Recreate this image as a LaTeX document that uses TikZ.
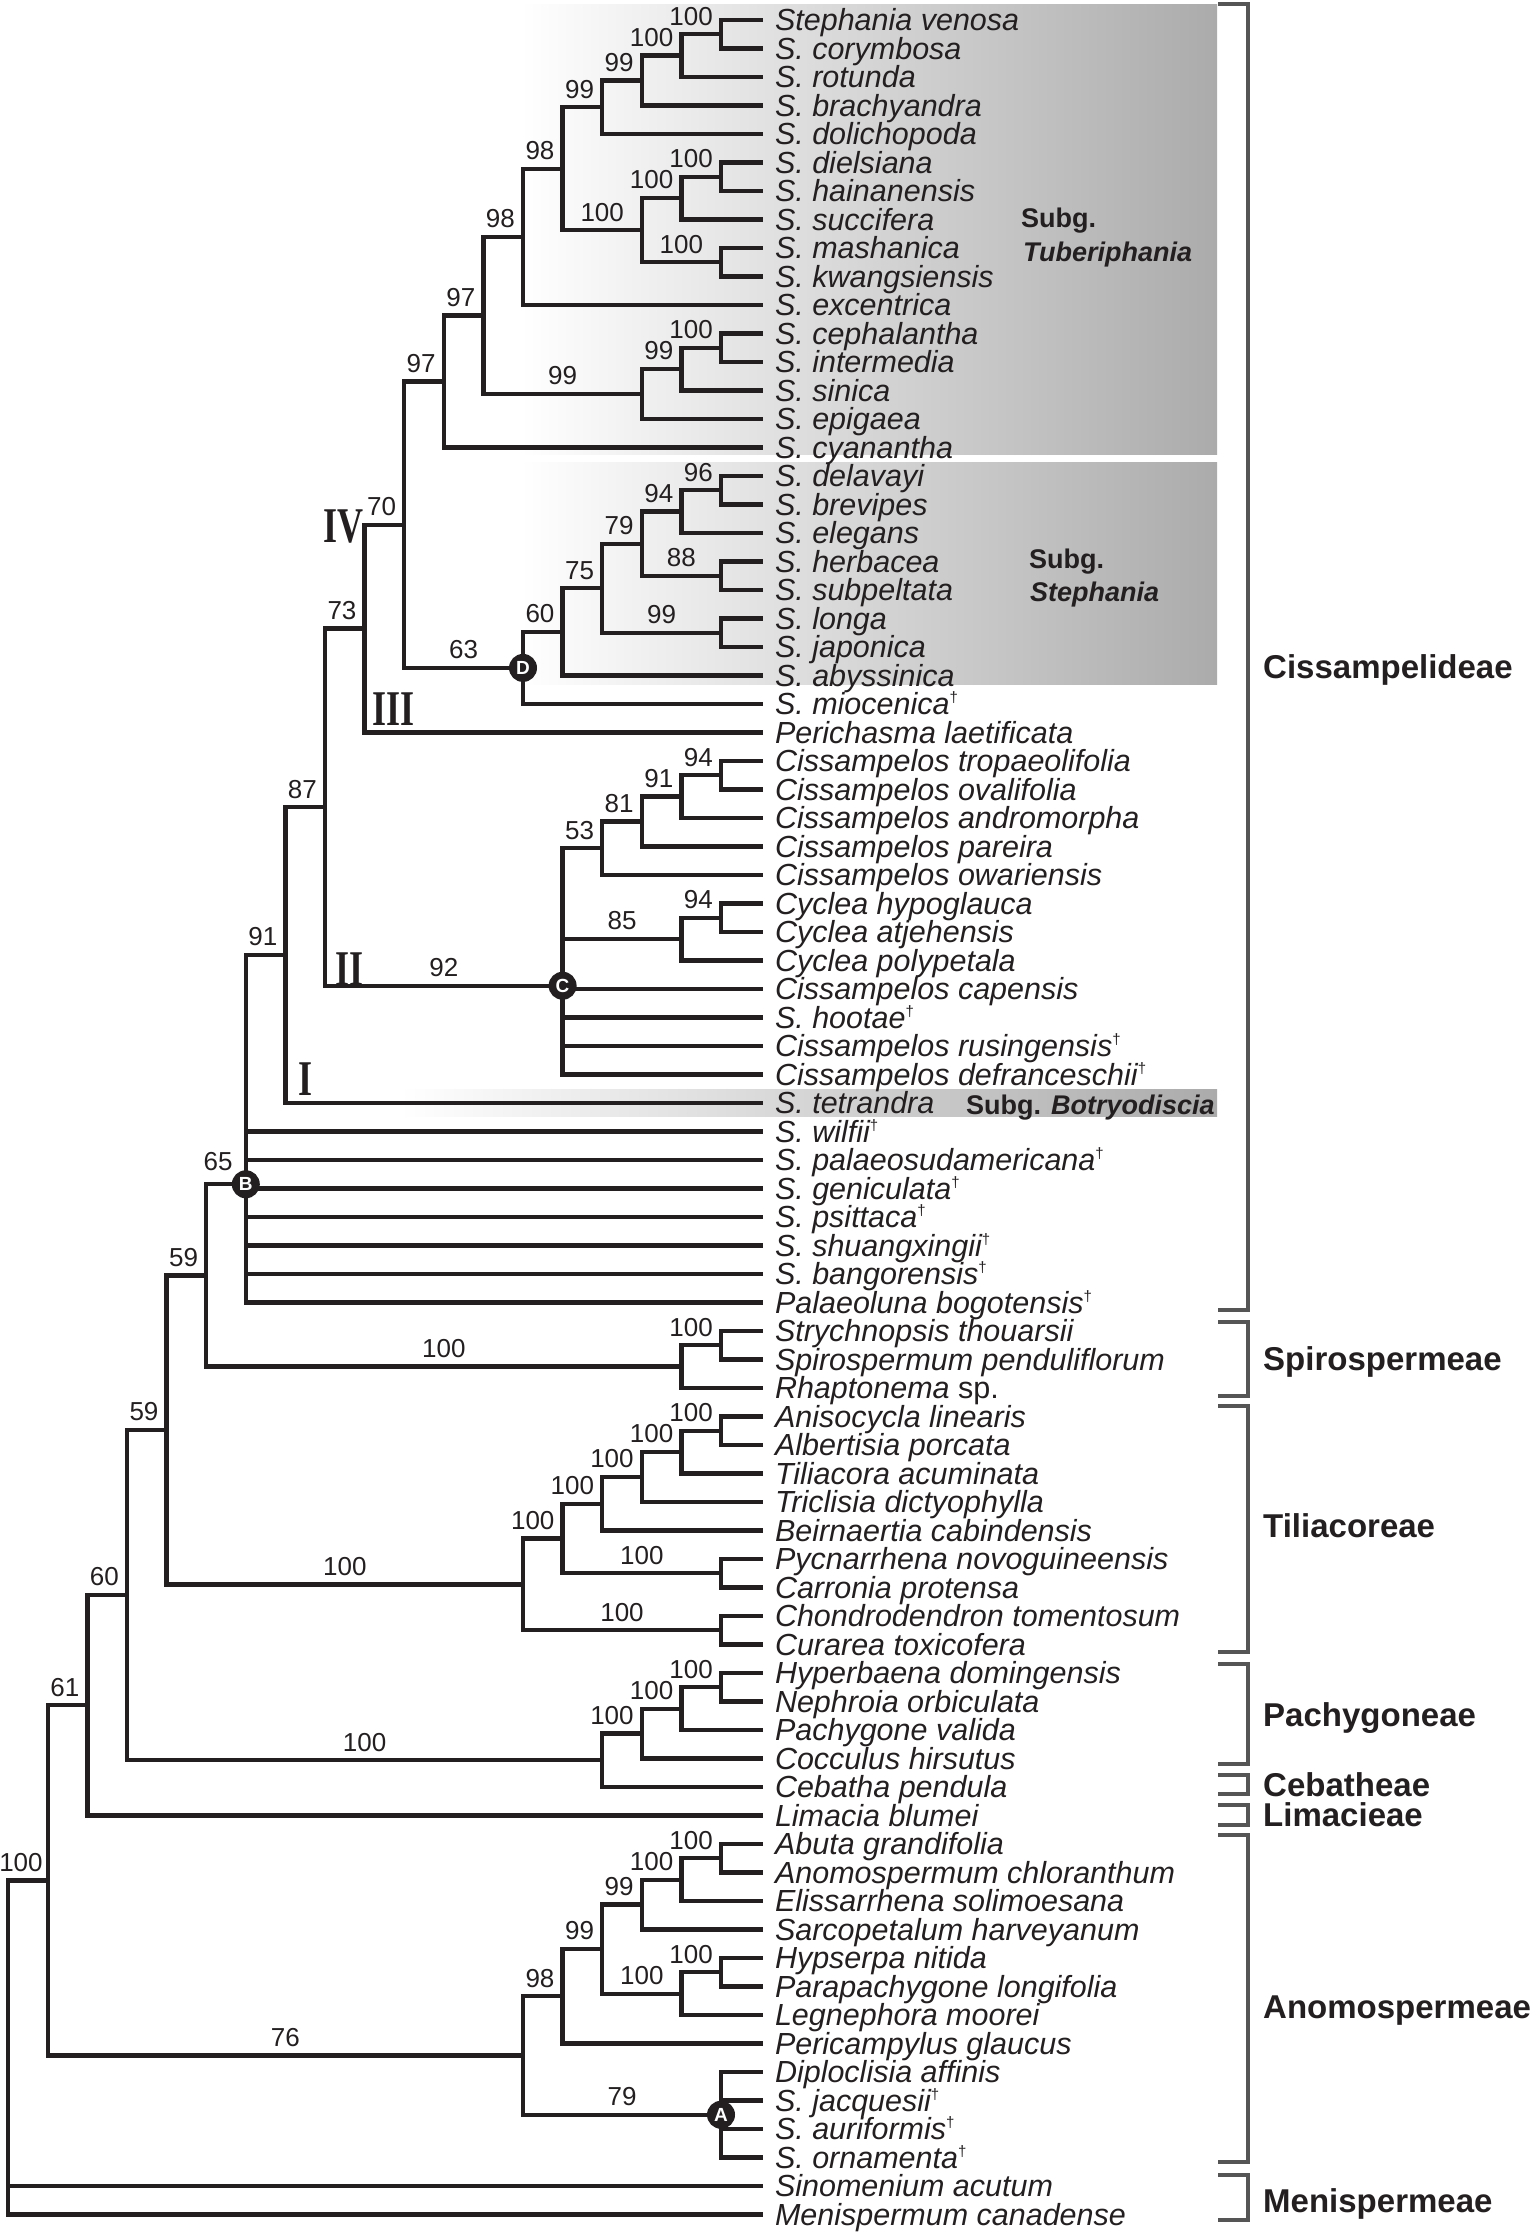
\documentclass[tikz,border=0pt]{standalone}
\usepackage{fontspec}
\setmainfont{Liberation Sans}
\newfontfamily\romanfont{Liberation Serif}
\usepackage{tikz}

\definecolor{inkblack}{HTML}{231F20}
\definecolor{bracketgray}{HTML}{555555}
\definecolor{boxgray}{HTML}{ABABAB}

% column of a node level, leaf tip column
\newcommand{\colx}[1]{(721-39.6*(#1))}
\newcommand{\tipx}{763}
\newcommand{\taxfont}{\fontsize{30.5}{32}\selectfont\itshape}
\newcommand{\bsfont}{\fontsize{26}{28}\selectfont}
\newcommand{\tribefont}{\fontsize{33}{36}\selectfont\bfseries}
\newcommand{\subgfont}{\fontsize{27}{30}\selectfont\bfseries}
\newcommand{\badgefont}{\fontsize{19}{19}\selectfont\bfseries}
\newcommand{\cladefont}{\fontsize{50}{50}\selectfont\romanfont\bfseries}
\newcommand{\fossil}{\raisebox{12pt}{\fontsize{15}{15}\selectfont\upshape\textdagger}}

\begin{document}
\begin{tikzpicture}[x=1pt, y=-28.5pt,
  branch/.style={line width=4.3pt, draw=inkblack, line join=miter},
  taxon/.style={anchor=west, font=\taxfont, text=inkblack, inner xsep=12pt,
    inner ysep=0pt, outer sep=0pt, text height=21.8pt, text depth=0pt},
  bsm/.style={pos=0.75, anchor=south, font=\bsfont, text=inkblack,
    inner sep=0pt, text depth=0pt, yshift=7pt},
  bsr/.style={bsm, pos=1, anchor=south east, xshift=-6pt},
  badge/.style={circle, fill=inkblack, text=white, minimum size=28pt,
    inner sep=0pt, font=\badgefont},
  tribe/.style={anchor=west, font=\tribefont, text=inkblack, inner sep=0pt,
    text height=23.6pt, text depth=0pt},
  subg/.style={anchor=base west, font=\subgfont, text=inkblack, inner sep=0pt},
  clade/.style={font=\cladefont, text=inkblack, inner sep=0pt, xscale=0.72},
  bracket/.style={line width=4pt, draw=bracketgray, line join=miter}]

  \useasboundingbox (0,0.298) rectangle (1538,78.684);

  % subgenus boxes
  \shade[left color=white, right color=boxgray] (520,0.439) rectangle (1217,16.26);
  \shade[left color=white, right color=boxgray] (520,16.54) rectangle (1217,24.33);
  \shade[left color=white, right color=boxgray] (400,38.51) rectangle (1217,39.49);

  % taxa
  \node[taxon] (l1) at (\tipx,1) {Stephania venosa};
  \node[taxon] (l2) at (\tipx,2) {S. corymbosa};
  \node[taxon] (l3) at (\tipx,3) {S. rotunda};
  \node[taxon] (l4) at (\tipx,4) {S. brachyandra};
  \node[taxon] (l5) at (\tipx,5) {S. dolichopoda};
  \node[taxon] (l6) at (\tipx,6) {S. dielsiana};
  \node[taxon] (l7) at (\tipx,7) {S. hainanensis};
  \node[taxon] (l8) at (\tipx,8) {S. succifera};
  \node[taxon] (l9) at (\tipx,9) {S. mashanica};
  \node[taxon] (l10) at (\tipx,10) {S. kwangsiensis};
  \node[taxon] (l11) at (\tipx,11) {S. excentrica};
  \node[taxon] (l12) at (\tipx,12) {S. cephalantha};
  \node[taxon] (l13) at (\tipx,13) {S. intermedia};
  \node[taxon] (l14) at (\tipx,14) {S. sinica};
  \node[taxon] (l15) at (\tipx,15) {S. epigaea};
  \node[taxon] (l16) at (\tipx,16) {S. cyanantha};
  \node[taxon] (l17) at (\tipx,17) {S. delavayi};
  \node[taxon] (l18) at (\tipx,18) {S. brevipes};
  \node[taxon] (l19) at (\tipx,19) {S. elegans};
  \node[taxon] (l20) at (\tipx,20) {S. herbacea};
  \node[taxon] (l21) at (\tipx,21) {S. subpeltata};
  \node[taxon] (l22) at (\tipx,22) {S. longa};
  \node[taxon] (l23) at (\tipx,23) {S. japonica};
  \node[taxon] (l24) at (\tipx,24) {S. abyssinica};
  \node[taxon] (l25) at (\tipx,25) {S. miocenica\fossil};
  \node[taxon] (l26) at (\tipx,26) {Perichasma laetificata};
  \node[taxon] (l27) at (\tipx,27) {Cissampelos tropaeolifolia};
  \node[taxon] (l28) at (\tipx,28) {Cissampelos ovalifolia};
  \node[taxon] (l29) at (\tipx,29) {Cissampelos andromorpha};
  \node[taxon] (l30) at (\tipx,30) {Cissampelos pareira};
  \node[taxon] (l31) at (\tipx,31) {Cissampelos owariensis};
  \node[taxon] (l32) at (\tipx,32) {Cyclea hypoglauca};
  \node[taxon] (l33) at (\tipx,33) {Cyclea atjehensis};
  \node[taxon] (l34) at (\tipx,34) {Cyclea polypetala};
  \node[taxon] (l35) at (\tipx,35) {Cissampelos capensis};
  \node[taxon] (l36) at (\tipx,36) {S. hootae\fossil};
  \node[taxon] (l37) at (\tipx,37) {Cissampelos rusingensis\fossil};
  \node[taxon] (l38) at (\tipx,38) {Cissampelos defranceschii\fossil};
  \node[taxon] (l39) at (\tipx,39) {S. tetrandra};
  \node[taxon] (l40) at (\tipx,40) {S. wilfii\fossil};
  \node[taxon] (l41) at (\tipx,41) {S. palaeosudamericana\fossil};
  \node[taxon] (l42) at (\tipx,42) {S. geniculata\fossil};
  \node[taxon] (l43) at (\tipx,43) {S. psittaca\fossil};
  \node[taxon] (l44) at (\tipx,44) {S. shuangxingii\fossil};
  \node[taxon] (l45) at (\tipx,45) {S. bangorensis\fossil};
  \node[taxon] (l46) at (\tipx,46) {Palaeoluna bogotensis\fossil};
  \node[taxon] (l47) at (\tipx,47) {Strychnopsis thouarsii};
  \node[taxon] (l48) at (\tipx,48) {Spirospermum penduliflorum};
  \node[taxon] (l49) at (\tipx,49) {Rhaptonema \textup{sp.}};
  \node[taxon] (l50) at (\tipx,50) {Anisocycla linearis};
  \node[taxon] (l51) at (\tipx,51) {Albertisia porcata};
  \node[taxon] (l52) at (\tipx,52) {Tiliacora acuminata};
  \node[taxon] (l53) at (\tipx,53) {Triclisia dictyophylla};
  \node[taxon] (l54) at (\tipx,54) {Beirnaertia cabindensis};
  \node[taxon] (l55) at (\tipx,55) {Pycnarrhena novoguineensis};
  \node[taxon] (l56) at (\tipx,56) {Carronia protensa};
  \node[taxon] (l57) at (\tipx,57) {Chondrodendron tomentosum};
  \node[taxon] (l58) at (\tipx,58) {Curarea toxicofera};
  \node[taxon] (l59) at (\tipx,59) {Hyperbaena domingensis};
  \node[taxon] (l60) at (\tipx,60) {Nephroia orbiculata};
  \node[taxon] (l61) at (\tipx,61) {Pachygone valida};
  \node[taxon] (l62) at (\tipx,62) {Cocculus hirsutus};
  \node[taxon] (l63) at (\tipx,63) {Cebatha pendula};
  \node[taxon] (l64) at (\tipx,64) {Limacia blumei};
  \node[taxon] (l65) at (\tipx,65) {Abuta grandifolia};
  \node[taxon] (l66) at (\tipx,66) {Anomospermum chloranthum};
  \node[taxon] (l67) at (\tipx,67) {Elissarrhena solimoesana};
  \node[taxon] (l68) at (\tipx,68) {Sarcopetalum harveyanum};
  \node[taxon] (l69) at (\tipx,69) {Hypserpa nitida};
  \node[taxon] (l70) at (\tipx,70) {Parapachygone longifolia};
  \node[taxon] (l71) at (\tipx,71) {Legnephora moorei};
  \node[taxon] (l72) at (\tipx,72) {Pericampylus glaucus};
  \node[taxon] (l73) at (\tipx,73) {Diploclisia affinis};
  \node[taxon] (l74) at (\tipx,74) {S. jacquesii\fossil};
  \node[taxon] (l75) at (\tipx,75) {S. auriformis\fossil};
  \node[taxon] (l76) at (\tipx,76) {S. ornamenta\fossil};
  \node[taxon] (l77) at (\tipx,77) {Sinomenium acutum};
  \node[taxon] (l78) at (\tipx,78) {Menispermum canadense};

  % inner nodes
  \coordinate (a1) at ({\colx{0}},1.5);
  \coordinate (a2) at ({\colx{1}},2.25);
  \coordinate (a3) at ({\colx{2}},3.125);
  \coordinate (a4) at ({\colx{3}},4.0625);
  \coordinate (b1) at ({\colx{0}},6.5);
  \coordinate (b2) at ({\colx{1}},7.25);
  \coordinate (b3) at ({\colx{0}},9.5);
  \coordinate (b4) at ({\colx{2}},8.375);
  \coordinate (a5) at ({\colx{4}},6.219);
  \coordinate (a6) at ({\colx{5}},8.609);
  \coordinate (c1) at ({\colx{0}},12.5);
  \coordinate (c2) at ({\colx{1}},13.25);
  \coordinate (c3) at ({\colx{2}},14.125);
  \coordinate (a7) at ({\colx{6}},11.367);
  \coordinate (a8) at ({\colx{7}},13.684);
  \coordinate (d1) at ({\colx{0}},17.5);
  \coordinate (d2) at ({\colx{1}},18.25);
  \coordinate (d3) at ({\colx{0}},20.5);
  \coordinate (d4) at ({\colx{2}},19.375);
  \coordinate (d5) at ({\colx{0}},22.5);
  \coordinate (d6) at ({\colx{3}},20.9375);
  \coordinate (d7) at ({\colx{4}},22.469);
  \coordinate (nD) at ({\colx{5}},23.734);
  \coordinate (a9) at ({\colx{8}},18.709);
  \coordinate (a10) at ({\colx{9}},22.355);
  \coordinate (e1) at ({\colx{0}},27.5);
  \coordinate (e2) at ({\colx{1}},28.25);
  \coordinate (e3) at ({\colx{2}},29.125);
  \coordinate (e4) at ({\colx{3}},30.0625);
  \coordinate (f1) at ({\colx{0}},32.5);
  \coordinate (f2) at ({\colx{1}},33.25);
  \coordinate (nC) at ({\colx{4}},34.885);
  \coordinate (a11) at ({\colx{10}},28.62);
  \coordinate (a12) at ({\colx{11}},33.81);
  \coordinate (nB) at ({\colx{12}},41.851);
  \coordinate (g1) at ({\colx{0}},47.5);
  \coordinate (g2) at ({\colx{1}},48.25);
  \coordinate (m1) at ({\colx{13}},45.05);
  \coordinate (h1) at ({\colx{0}},50.5);
  \coordinate (h2) at ({\colx{1}},51.25);
  \coordinate (h3) at ({\colx{2}},52.125);
  \coordinate (h4) at ({\colx{3}},53.0625);
  \coordinate (h5) at ({\colx{0}},55.5);
  \coordinate (h6) at ({\colx{4}},54.281);
  \coordinate (h7) at ({\colx{0}},57.5);
  \coordinate (h8) at ({\colx{5}},55.891);
  \coordinate (m2) at ({\colx{14}},50.47);
  \coordinate (p1) at ({\colx{0}},59.5);
  \coordinate (p2) at ({\colx{1}},60.25);
  \coordinate (p3) at ({\colx{2}},61.125);
  \coordinate (p4) at ({\colx{3}},62.0625);
  \coordinate (m3) at ({\colx{15}},56.266);
  \coordinate (m4) at ({\colx{16}},60.133);
  \coordinate (q1) at ({\colx{0}},65.5);
  \coordinate (q2) at ({\colx{1}},66.25);
  \coordinate (q3) at ({\colx{2}},67.125);
  \coordinate (q4) at ({\colx{0}},69.5);
  \coordinate (q5) at ({\colx{1}},70.25);
  \coordinate (q6) at ({\colx{3}},68.6875);
  \coordinate (q7) at ({\colx{4}},70.344);
  \coordinate (nA) at ({\colx{0}},74.5);
  \coordinate (q8) at ({\colx{5}},72.422);
  \coordinate (m5) at ({\colx{17}},66.278);
  \coordinate (rt) at ({\colx{18}},73.76);

  % Tuberiphania part
  \draw[branch] (a1) |- (l1.west);
  \draw[branch] (a1) |- (l2.west);
  \draw[branch] (a2) |- node[bsr] (s1) {100} (a1);
  \draw[branch] (a2) |- (l3.west);
  \draw[branch] (a3) |- node[bsr] (s2) {100} (a2);
  \draw[branch] (a3) |- (l4.west);
  \draw[branch] (a4) |- node[bsr] (s3) {99} (a3);
  \draw[branch] (a4) |- (l5.west);
  \draw[branch] (a5) |- node[bsr] (s4) {99} (a4);
  \draw[branch] (b1) |- (l6.west);
  \draw[branch] (b1) |- (l7.west);
  \draw[branch] (b2) |- node[bsr] (s5) {100} (b1);
  \draw[branch] (b2) |- (l8.west);
  \draw[branch] (b4) |- node[bsr] (s6) {100} (b2);
  \draw[branch] (b3) |- (l9.west);
  \draw[branch] (b3) |- (l10.west);
  \draw[branch] (b4) |- node[bsm] (s7) {100} (b3);
  \draw[branch] (a5) |- node[bsm] (s8) {100} (b4);
  \draw[branch] (a6) |- node[bsr] (s9) {98} (a5);
  \draw[branch] (a6) |- (l11.west);
  \draw[branch] (c1) |- (l12.west);
  \draw[branch] (c1) |- (l13.west);
  \draw[branch] (c2) |- node[bsr] (s10) {100} (c1);
  \draw[branch] (c2) |- (l14.west);
  \draw[branch] (c3) |- node[bsr] (s11) {99} (c2);
  \draw[branch] (c3) |- (l15.west);
  \draw[branch] (a7) |- node[bsm] (s12) {99} (c3);
  \draw[branch] (a7) |- node[bsr] (s13) {98} (a6);
  \draw[branch] (a8) |- node[bsr] (s14) {97} (a7);
  \draw[branch] (a8) |- (l16.west);
  \draw[branch] (a9) |- node[bsr] (s15) {97} (a8);

  % Stephania part
  \draw[branch] (d1) |- (l17.west);
  \draw[branch] (d1) |- (l18.west);
  \draw[branch] (d2) |- node[bsr] (s16) {96} (d1);
  \draw[branch] (d2) |- (l19.west);
  \draw[branch] (d4) |- node[bsr] (s17) {94} (d2);
  \draw[branch] (d3) |- (l20.west);
  \draw[branch] (d3) |- (l21.west);
  \draw[branch] (d4) |- node[bsm] (s18) {88} (d3);
  \draw[branch] (d6) |- node[bsr] (s19) {79} (d4);
  \draw[branch] (d5) |- (l22.west);
  \draw[branch] (d5) |- (l23.west);
  \draw[branch] (d6) |- node[bsm] (s20) {99} (d5);
  \draw[branch] (d7) |- node[bsr] (s21) {75} (d6);
  \draw[branch] (d7) |- (l24.west);
  \draw[branch] (nD) |- node[bsr] (s22) {60} (d7);
  \draw[branch] (nD) |- (l25.west);
  \draw[branch] (a9) |- node[bsm] (s23) {63} (nD);
  \draw[branch] (a10) |- node[bsr] (s24) {70} (a9);
  \draw[branch] (a10) |- (l26.west);
  \draw[branch] (a11) |- node[bsr] (s25) {73} (a10);

  % Cissampelos part
  \draw[branch] (e1) |- (l27.west);
  \draw[branch] (e1) |- (l28.west);
  \draw[branch] (e2) |- node[bsr] (s26) {94} (e1);
  \draw[branch] (e2) |- (l29.west);
  \draw[branch] (e3) |- node[bsr] (s27) {91} (e2);
  \draw[branch] (e3) |- (l30.west);
  \draw[branch] (e4) |- node[bsr] (s28) {81} (e3);
  \draw[branch] (e4) |- (l31.west);
  \draw[branch] (nC) |- node[bsr] (s29) {53} (e4);
  \draw[branch] (f1) |- (l32.west);
  \draw[branch] (f1) |- (l33.west);
  \draw[branch] (f2) |- node[bsr] (s30) {94} (f1);
  \draw[branch] (f2) |- (l34.west);
  \draw[branch] (nC) |- node[bsm] (s31) {85} (f2);
  \draw[branch] (nC) |- (l35.west);
  \draw[branch] (nC) |- (l36.west);
  \draw[branch] (nC) |- (l37.west);
  \draw[branch] (nC) |- (l38.west);
  \draw[branch] (a11) |- node[bsm] (s32) {92} (nC);
  \draw[branch] (a12) |- node[bsr] (s33) {87} (a11);
  \draw[branch] (a12) |- (l39.west);
  \draw[branch] (nB) |- node[bsr] (s34) {91} (a12);
  \draw[branch] (nB) |- (l40.west);
  \draw[branch] (nB) |- (l41.west);
  \draw[branch] (nB) |- (l42.west);
  \draw[branch] (nB) |- (l43.west);
  \draw[branch] (nB) |- (l44.west);
  \draw[branch] (nB) |- (l45.west);
  \draw[branch] (nB) |- (l46.west);
  \draw[branch] (m1) |- node[bsr, xshift=-5pt, yshift=5pt] (s35) {65} (nB);

  % Spirospermeae part
  \draw[branch] (g1) |- (l47.west);
  \draw[branch] (g1) |- (l48.west);
  \draw[branch] (g2) |- node[bsr] (s36) {100} (g1);
  \draw[branch] (g2) |- (l49.west);
  \draw[branch] (m1) |- node[bsm] (s37) {100} (g2);
  \draw[branch] (m2) |- node[bsr] (s38) {59} (m1);

  % Tiliacoreae part
  \draw[branch] (h1) |- (l50.west);
  \draw[branch] (h1) |- (l51.west);
  \draw[branch] (h2) |- node[bsr] (s39) {100} (h1);
  \draw[branch] (h2) |- (l52.west);
  \draw[branch] (h3) |- node[bsr] (s40) {100} (h2);
  \draw[branch] (h3) |- (l53.west);
  \draw[branch] (h4) |- node[bsr] (s41) {100} (h3);
  \draw[branch] (h4) |- (l54.west);
  \draw[branch] (h6) |- node[bsr] (s42) {100} (h4);
  \draw[branch] (h5) |- (l55.west);
  \draw[branch] (h5) |- (l56.west);
  \draw[branch] (h6) |- node[bsm] (s43) {100} (h5);
  \draw[branch] (h8) |- node[bsr] (s44) {100} (h6);
  \draw[branch] (h7) |- (l57.west);
  \draw[branch] (h7) |- (l58.west);
  \draw[branch] (h8) |- node[bsm] (s45) {100} (h7);
  \draw[branch] (m2) |- node[bsm] (s46) {100} (h8);
  \draw[branch] (m3) |- node[bsr] (s47) {59} (m2);

  % Pachygoneae part
  \draw[branch] (p1) |- (l59.west);
  \draw[branch] (p1) |- (l60.west);
  \draw[branch] (p2) |- node[bsr] (s48) {100} (p1);
  \draw[branch] (p2) |- (l61.west);
  \draw[branch] (p3) |- node[bsr] (s49) {100} (p2);
  \draw[branch] (p3) |- (l62.west);
  \draw[branch] (p4) |- node[bsr] (s50) {100} (p3);
  \draw[branch] (p4) |- (l63.west);
  \draw[branch] (m3) |- node[bsm] (s51) {100} (p4);
  \draw[branch] (m4) |- node[bsr] (s52) {60} (m3);
  \draw[branch] (m4) |- (l64.west);
  \draw[branch] (m5) |- node[bsr] (s53) {61} (m4);

  % Anomospermeae part
  \draw[branch] (q1) |- (l65.west);
  \draw[branch] (q1) |- (l66.west);
  \draw[branch] (q2) |- node[bsr] (s54) {100} (q1);
  \draw[branch] (q2) |- (l67.west);
  \draw[branch] (q3) |- node[bsr] (s55) {100} (q2);
  \draw[branch] (q3) |- (l68.west);
  \draw[branch] (q6) |- node[bsr] (s56) {99} (q3);
  \draw[branch] (q4) |- (l69.west);
  \draw[branch] (q4) |- (l70.west);
  \draw[branch] (q5) |- node[bsr] (s57) {100} (q4);
  \draw[branch] (q5) |- (l71.west);
  \draw[branch] (q6) |- node[bsm] (s58) {100} (q5);
  \draw[branch] (q7) |- node[bsr] (s59) {99} (q6);
  \draw[branch] (q7) |- (l72.west);
  \draw[branch] (q8) |- node[bsr] (s60) {98} (q7);
  \draw[branch] (nA) |- (l73.west);
  \draw[branch] (nA) |- (l74.west);
  \draw[branch] (nA) |- (l75.west);
  \draw[branch] (nA) |- (l76.west);
  \draw[branch] (q8) |- node[bsm] (s61) {79} (nA);
  \draw[branch] (m5) |- node[bsm] (s62) {76} (q8);

  % root part
  \draw[branch] (rt) |- node[bsr, xshift=3pt] (s63) {100} (m5);
  \draw[branch] (rt) |- (l77.west);
  \draw[branch] (rt) |- (l78.west);

  % node badges
  \node[badge] (A) at (nA) {A};
  \node[badge] (B) at (nB) {B};
  \node[badge] (C) at (nC) {C};
  \node[badge] (D) at (nD) {D};

  % clade numerals
  \node[clade, anchor=base east] (cIV) at (364,19.316) {IV};
  \node[clade, anchor=base west] (cIII) at (372,25.74) {III};
  \node[clade, anchor=base west] (cII) at (335,34.86) {II};
  \node[clade, anchor=base west] (cI) at (298,38.72) {I};

  % subgenus labels
  \node[subg] (tubsubg) at (1021,8.263) {Subg.};
  \node[subg] (tubname) at (1023,9.49) {\textit{Tuberiphania}};
  \node[subg] (stesubg) at (1029,20.26) {Subg.};
  \node[subg] (stename) at (1030,21.39) {\textit{Stephania}};
  \node[subg] (botname) at (966,39.39) {Subg. \textit{Botryodiscia}};

  % tribe brackets
  \draw[bracket] (1218,0.439) -| (1248,46.26) -- (1218,46.26);
  \draw[bracket] (1218,46.68) -| (1248,49.28) -- (1218,49.28);
  \draw[bracket] (1218,49.63) -| (1248,58.26) -- (1218,58.26);
  \draw[bracket] (1218,58.68) -| (1248,62.18) -- (1218,62.18);
  \draw[bracket] (1218,62.58) -| (1248,63.23) -- (1218,63.23);
  \draw[bracket] (1218,63.63) -| (1248,64.33) -- (1218,64.33);
  \draw[bracket] (1218,64.68) -| (1248,76.14) -- (1218,76.14);
  \draw[bracket] (1218,76.61) -| (1248,78.19) -- (1218,78.19);

  % tribe labels
  \node[tribe] (cis) at (1263,23.70) {Cissampelideae};
  \node[tribe] (spi) at (1263,47.98) {Spirospermeae};
  \node[tribe] (til) at (1263,53.84) {Tiliacoreae};
  \node[tribe] (pac) at (1263,60.47) {Pachygoneae};
  \node[tribe] (ceb) at (1263,62.93) {Cebatheae};
  \node[tribe] (lim) at (1263,63.98) {Limacieae};
  \node[tribe] (ano) at (1263,70.70) {Anomospermeae};
  \node[tribe] (men) at (1263,77.53) {Menispermeae};
\end{tikzpicture}
\end{document}
